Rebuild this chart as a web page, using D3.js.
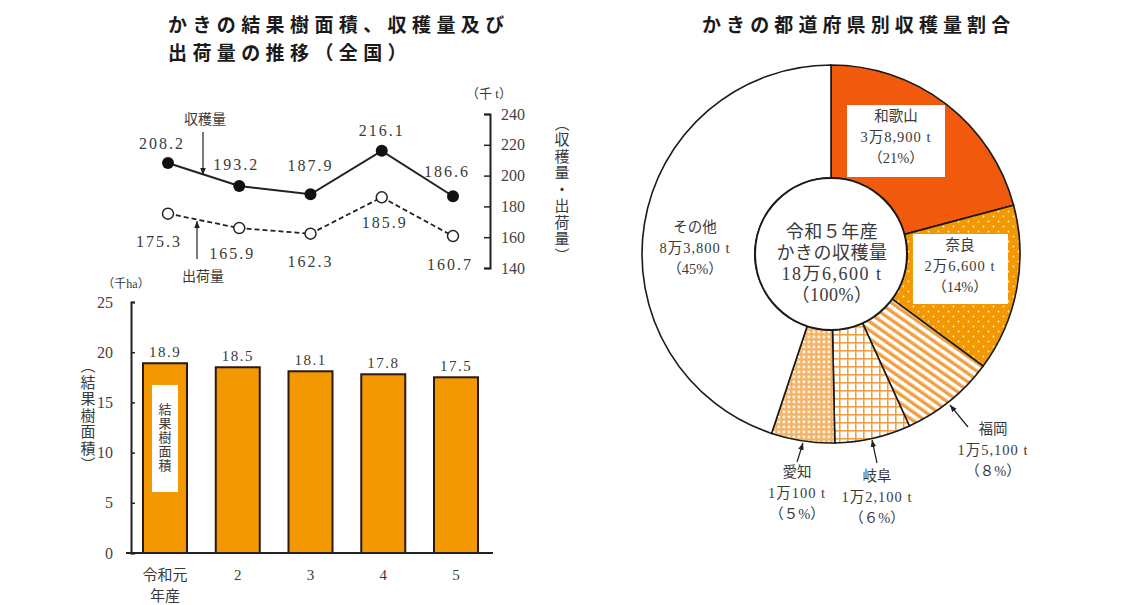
<!DOCTYPE html>
<html><head><meta charset="utf-8">
<script src="https://cdn.jsdelivr.net/npm/d3@7"></script>
<style>
body{margin:0;background:#fff;}
svg{display:block;}
text{font-family:"Liberation Serif","Noto Sans CJK JP",serif;fill:#3a3a3a;}
.title{font-family:"Noto Sans CJK JP","Noto Sans CJK SC",sans-serif;font-weight:700;font-size:19px;fill:#1a1a1a;}
.tick text{font-family:"Liberation Serif","Noto Sans CJK JP",serif;font-size:16px;fill:#444;}
.vert{writing-mode:vertical-rl;font-family:"Noto Sans CJK JP",serif;}
</style></head><body>
<svg id="c" width="1137" height="605"></svg>
<script>
// ---------------- data ----------------
const years = ["令和元年産","2","3","4","5"];
const yearLabels = [["令和元","年産"],["2"],["3"],["4"],["5"]];
const area = [18.9,18.5,18.1,17.8,17.5];
const harvest = [208.2,193.2,187.9,216.1,186.6];
const shipment = [175.3,165.9,162.3,185.9,160.7];
const lineTicks = [140,160,180,200,220,240];
const barTicks = [0,5,10,15,20,25];
const prefectures = ["和歌山","奈良","福岡","岐阜","愛知","その他"];
const prefValues = [38900,26600,15100,12100,10100,83800];
const prefAmount = ["3万8,900 t","2万6,600 t","1万5,100 t","1万2,100 t","1万100 t","8万3,800 t"];
const prefShare = ["（21%）","（14%）","（８%）","（６%）","（５%）","（45%）"];
const centerLines = ["令和５年産","かきの収穫量","18万6,600 t","（100%）"];
const titleLeft = ["かきの結果樹面積、収穫量及び","出荷量の推移（全国）"];
const titleRight = "かきの都道府県別収穫量割合";

const svg = d3.select("#c");
const defs = svg.append("defs");
defs.append("marker").attr("id","ah").attr("viewBox","0 0 10 10").attr("refX",10).attr("refY",5)
  .attr("markerWidth",7).attr("markerHeight",7).attr("markerUnits","userSpaceOnUse").attr("orient","auto")
  .append("path").attr("d","M0,1 L10,5 L0,9 Z").attr("fill","#222");

// ---------------- titles ----------------
function spaced(str, x0, step){ return Array.from(str).map((c,i)=>(x0+i*step).toFixed(1)).join(" "); }
titleLeft.forEach((s,j)=>{
  svg.append("text").attr("class","title").attr("x",spaced(s,168,24.4)).attr("y",32+j*28).text(s);
});
svg.append("text").attr("class","title").attr("x",spaced(titleRight,702,24.1)).attr("y",32).text(titleRight);

// ---------------- line chart ----------------
const xL = d3.scalePoint().domain(years).range([168,453]);
const yL = d3.scaleLinear().domain([140,240]).range([268,114]);

const gAxL = svg.append("g").attr("transform","translate(490,0)")
  .call(d3.axisRight(yL).tickValues(lineTicks).tickSizeInner(-6).tickSizeOuter(-6).tickPadding(11));
gAxL.select(".domain").attr("stroke","#222").attr("stroke-width",2);
gAxL.selectAll(".tick line").attr("stroke","#222").attr("stroke-width",1.5);
gAxL.selectAll(".tick text").attr("text-anchor","start");
svg.append("text").attr("x",489).attr("y",98).attr("text-anchor","middle").attr("font-size",13).text("（千 t）");
svg.append("text").attr("class","vert").attr("x",562).attr("y",190).attr("text-anchor","middle")
  .attr("font-size",15).attr("letter-spacing",1.5).text("（収穫量・出荷量）");

const lineGen = d3.line().x((d,i)=>xL(years[i])).y(d=>yL(d));
svg.append("path").datum(harvest).attr("d",lineGen).attr("fill","none").attr("stroke","#222").attr("stroke-width",2);
svg.append("path").datum(shipment).attr("d",lineGen).attr("fill","none").attr("stroke","#222")
  .attr("stroke-width",1.8).attr("stroke-dasharray","5,3");
svg.selectAll(".ph").data(harvest).enter().append("circle")
  .attr("cx",(d,i)=>xL(years[i])).attr("cy",d=>yL(d)).attr("r",6).attr("fill","#111");
svg.selectAll(".ps").data(shipment).enter().append("circle")
  .attr("cx",(d,i)=>xL(years[i])).attr("cy",d=>yL(d)).attr("r",5.5).attr("fill","#fff")
  .attr("stroke","#222").attr("stroke-width",1.5);

const hOff = [[-6,-14],[-3,-16],[0,-23],[0,-15],[-6,-19]];
svg.selectAll(".lh").data(harvest).enter().append("text")
  .attr("x",(d,i)=>xL(years[i])+hOff[i][0]).attr("y",(d,i)=>yL(d)+hOff[i][1])
  .attr("text-anchor","middle").attr("font-size",16).attr("letter-spacing",2).text(d=>d.toFixed(1));
const sOff = [[-9,33],[-7,31],[0,33],[3,31],[-3,34]];
svg.selectAll(".ls").data(shipment).enter().append("text")
  .attr("x",(d,i)=>xL(years[i])+sOff[i][0]).attr("y",(d,i)=>yL(d)+sOff[i][1])
  .attr("text-anchor","middle").attr("font-size",16).attr("letter-spacing",2).text(d=>d.toFixed(1));

svg.append("text").attr("x",205).attr("y",124).attr("text-anchor","middle").attr("font-size",14).text("収穫量");
svg.append("line").attr("x1",203).attr("y1",132).attr("x2",203).attr("y2",175)
  .attr("stroke","#222").attr("stroke-width",1.2).attr("marker-end","url(#ah)");
svg.append("text").attr("x",203).attr("y",281).attr("text-anchor","middle").attr("font-size",14).text("出荷量");
svg.append("line").attr("x1",197).attr("y1",259).attr("x2",197).attr("y2",221)
  .attr("stroke","#222").attr("stroke-width",1.2).attr("marker-end","url(#ah)");

// ---------------- bar chart ----------------
const xB = d3.scalePoint().domain(years).range([165,456]);
const yB = d3.scaleLinear().domain([0,25]).range([553,302]);
const barW = 44;

const gAxB = svg.append("g").attr("transform","translate(131,0)")
  .call(d3.axisLeft(yB).tickValues(barTicks).tickSizeInner(-4).tickSizeOuter(-4).tickPadding(18));
gAxB.select(".domain").attr("stroke","#222").attr("stroke-width",2);
gAxB.selectAll(".tick line").attr("stroke","#222").attr("stroke-width",1.5);

svg.selectAll(".bar").data(area).enter().append("rect")
  .attr("x",(d,i)=>xB(years[i])-barW/2).attr("y",d=>yB(d))
  .attr("width",barW).attr("height",d=>yB(0)-yB(d))
  .attr("fill","#f39800").attr("stroke","#2a1a10").attr("stroke-width",2);
svg.append("line").attr("x1",126).attr("x2",493).attr("y1",yB(0)).attr("y2",yB(0))
  .attr("stroke","#222").attr("stroke-width",2);

svg.selectAll(".bl").data(area).enter().append("text")
  .attr("x",(d,i)=>xB(years[i])).attr("y",d=>yB(d)-6)
  .attr("text-anchor","middle").attr("font-size",15).attr("letter-spacing",1.5).text(d=>d.toFixed(1));

yearLabels.forEach((lines,i)=>{
  lines.forEach((t,j)=>{
    svg.append("text").attr("x",xB(years[i])).attr("y",580+j*21).attr("text-anchor","middle")
      .attr("font-size",15).text(t);
  });
});

svg.append("text").attr("x",126).attr("y",288).attr("text-anchor","middle").attr("font-size",12).text("（千ha）");
svg.append("text").attr("class","vert").attr("x",88).attr("y",416).attr("text-anchor","middle")
  .attr("font-size",15).attr("letter-spacing",1.5).text("（結果樹面積）");

svg.append("rect").attr("x",xB(years[0])-13).attr("y",385).attr("width",26).attr("height",107).attr("fill","#fff");
svg.append("text").attr("class","vert").attr("x",xB(years[0])).attr("y",438).attr("text-anchor","middle")
  .attr("font-size",13).attr("letter-spacing",1).text("結果樹面積");

// ---------------- pie chart ----------------
const cx = 831, cy = 254, rIn = 76, rOut = 189;
const orange = "#f39800", red = "#f15a0c", lo = "#f0a040";

const pDots = defs.append("pattern").attr("id","pDots").attr("patternUnits","userSpaceOnUse").attr("width",10).attr("height",10);
pDots.append("rect").attr("width",10).attr("height",10).attr("fill",orange);
pDots.append("circle").attr("cx",2.5).attr("cy",2.5).attr("r",0.9).attr("fill","#fff4dc");
pDots.append("circle").attr("cx",7.5).attr("cy",7.5).attr("r",0.9).attr("fill","#fff4dc");

const pStripe = defs.append("pattern").attr("id","pStripe").attr("patternUnits","userSpaceOnUse")
  .attr("width",7).attr("height",7).attr("patternTransform","rotate(-55)");
pStripe.append("rect").attr("width",7).attr("height",7).attr("fill","#fff");
pStripe.append("rect").attr("width",3.4).attr("height",7).attr("fill",lo);

const pGrid = defs.append("pattern").attr("id","pGrid").attr("patternUnits","userSpaceOnUse").attr("width",8).attr("height",8);
pGrid.append("rect").attr("width",8).attr("height",8).attr("fill","#fff");
pGrid.append("rect").attr("width",8).attr("height",1.6).attr("fill",lo);
pGrid.append("rect").attr("width",1.6).attr("height",8).attr("fill",lo);

const pCheck = defs.append("pattern").attr("id","pCheck").attr("patternUnits","userSpaceOnUse").attr("width",5).attr("height",5);
pCheck.append("rect").attr("width",5).attr("height",5).attr("fill","#f2b46a");
pCheck.append("rect").attr("x",1.6).attr("y",1.6).attr("width",2.6).attr("height",2.6).attr("fill","#fff3e3");

const fills = [red,"url(#pDots)","url(#pStripe)","url(#pGrid)","url(#pCheck)","#fff"];

const arcs = d3.pie().sort(null).value(d=>d)(prefValues);
const arcGen = d3.arc().innerRadius(rIn).outerRadius(rOut);
const gPie = svg.append("g").attr("transform",`translate(${cx},${cy})`);
gPie.selectAll("path").data(arcs).enter().append("path")
  .attr("d",arcGen).attr("fill",(d,i)=>fills[i]).attr("stroke","#1a1a1a").attr("stroke-width",1.6);
gPie.append("circle").attr("r",rIn).attr("fill","#fff").attr("stroke","#1a1a1a").attr("stroke-width",2);
centerLines.forEach((t,j)=>{
  gPie.append("text").attr("x",1).attr("y",-16+j*21).attr("text-anchor","middle")
    .attr("font-size",18).attr("letter-spacing",j===2?1.5:0.5)
    .attr("fill","#3a3a3a").text(t);
});

const labelPos = [
  {x:65,y:-133,box:[-49,-16,98,72]},
  {x:129,y:-4,box:[-47,-16,95,70]},
  {x:162,y:180,arrow:[137,173,119,151]},
  {x:46,y:227,arrow:[46,209,41,186]},
  {x:-34,y:223,arrow:[-34,208,-28,189]},
  {x:-136,y:-22}
];
prefectures.forEach((p,i)=>{
  const L = labelPos[i];
  if(L.box){
    gPie.append("rect").attr("x",L.box[0]+L.x).attr("y",L.box[1]+L.y)
      .attr("width",L.box[2]).attr("height",L.box[3]).attr("fill","#fff");
  }
  if(L.arrow){
    gPie.append("line").attr("x1",L.arrow[0]).attr("y1",L.arrow[1]).attr("x2",L.arrow[2]).attr("y2",L.arrow[3])
      .attr("stroke","#222").attr("stroke-width",1.2).attr("marker-end","url(#ah)");
  }
  [p,prefAmount[i],prefShare[i]].forEach((t,j)=>{
    gPie.append("text").attr("x",L.x).attr("y",L.y+j*21).attr("text-anchor","middle")
      .attr("font-size",14.5).attr("letter-spacing",j===1?1:0).text(t);
  });
});
</script>
</body></html>
